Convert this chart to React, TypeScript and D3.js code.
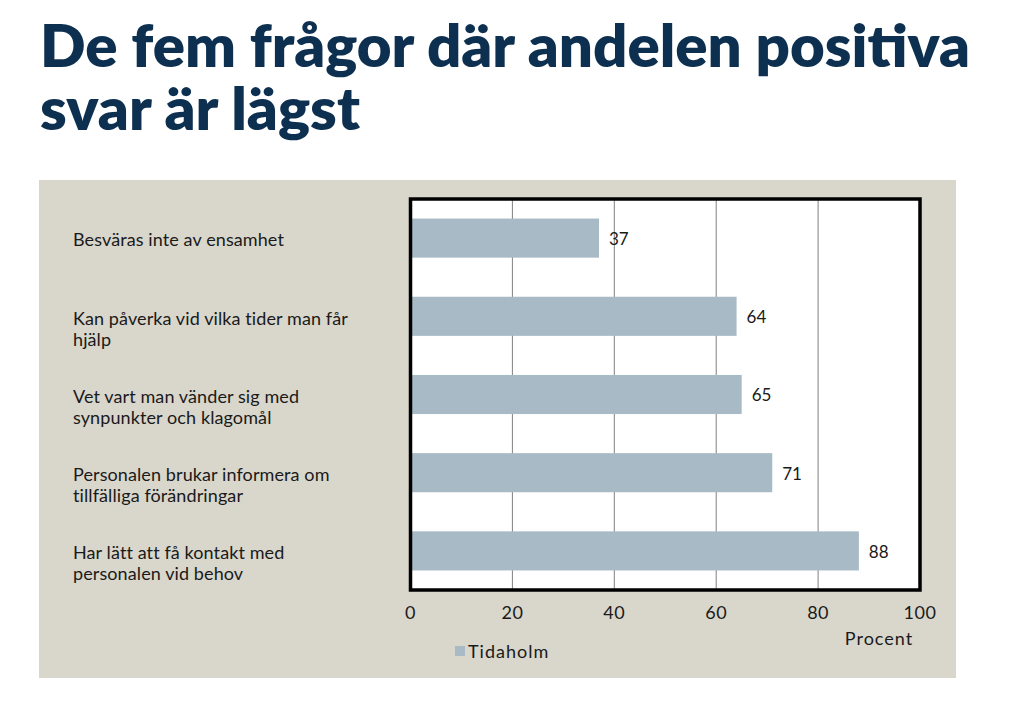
import React from "react";
import * as d3 from "d3";

const categories: string[][] = [
  ["Besväras inte av ensamhet"],
  ["Kan påverka vid vilka tider man får", "hjälp"],
  ["Vet vart man vänder sig med", "synpunkter och klagomål"],
  ["Personalen brukar informera om", "tillfälliga förändringar"],
  ["Har lätt att få kontakt med", "personalen vid behov"],
];
const values: number[] = [37, 64, 65, 71, 88];
const xTicks: number[] = [0, 20, 40, 60, 80, 100];
const seriesName = "Tidaholm";
const titleLines = ["De fem frågor där andelen positiva", "svar är lägst"];

export default function App() {
  const W = 1019, H = 720;
  const plot = { left: 410.5, right: 920, top: 199, bottom: 590 };
  const x = d3.scaleLinear().domain([0, 100]).range([plot.left, plot.right]);
  const y = d3
    .scaleBand<number>()
    .domain(d3.range(values.length))
    .range([plot.top, plot.bottom])
    .paddingInner(0.5)
    .paddingOuter(0.25);
  const font = "'Lato', 'Noto Sans', sans-serif";
  const barColor = "#a7bac5";
  const txt = "#1a1a1a";
  return (
    <svg width={W} height={H} style={{ position: "absolute", left: 0, top: 0 }}>
      <rect x={0} y={0} width={W} height={H} fill="#ffffff" />
      {titleLines.map((t, i) => (
        <text
          key={i}
          x={40}
          y={67 + i * 63}
          fontFamily="'Lato', sans-serif"
          fontWeight={800}
          fontSize={58}
          fill="#0e3050"
          textLength={i === 0 ? 930 : 320}
          lengthAdjust="spacingAndGlyphs"
        >
          {t}
        </text>
      ))}
      <rect x={39} y={180} width={917} height={498} fill="#d9d6cb" />
      <rect x={plot.left} y={plot.top} width={plot.right - plot.left} height={plot.bottom - plot.top} fill="#ffffff" />
      {xTicks.slice(1, -1).map((t) => (
        <line key={t} x1={x(t)} x2={x(t)} y1={plot.top} y2={plot.bottom} stroke="#808080" strokeWidth={1} />
      ))}
      {values.map((v, i) => (
        <g key={i}>
          <rect x={x(0)} y={y(i)!} width={x(v) - x(0)} height={y.bandwidth()} fill={barColor} />
          <text
            x={x(v) + 10}
            y={y(i)! + y.bandwidth() / 2 + 1}
            dy="0.35em"
            fontFamily={font}
            fontSize={17}
            fill={txt}
          >
            {v}
          </text>
        </g>
      ))}
      <rect
        x={plot.left}
        y={plot.top}
        width={plot.right - plot.left}
        height={plot.bottom - plot.top}
        fill="none"
        stroke="#000"
        strokeWidth={3.5}
      />
      {categories.map((lines, i) => {
        const cy = y(i)! + y.bandwidth() / 2 + 2;
        const lh = 21;
        return (
          <text key={i} fontFamily={font} fontSize={18} letterSpacing={0.1} fill={txt}>
            {lines.map((l, j) => (
              <tspan key={j} x={73} y={cy + j * lh} dy="0.35em">
                {l}
              </tspan>
            ))}
          </text>
        );
      })}
      {xTicks.map((t) => (
        <text key={t} x={x(t)} y={619} textAnchor="middle" fontFamily={font} fontSize={18} letterSpacing={0.5} fill={txt}>
          {t}
        </text>
      ))}
      <text x={879} y={645} textAnchor="middle" fontFamily={font} fontSize={18} letterSpacing={1} fill={txt}>
        Procent
      </text>
      <rect x={455} y={646} width={10} height={10} fill={barColor} />
      <text x={468} y={658} fontFamily={font} fontSize={18} letterSpacing={1} fill={txt}>
        {seriesName}
      </text>
    </svg>
  );
}
